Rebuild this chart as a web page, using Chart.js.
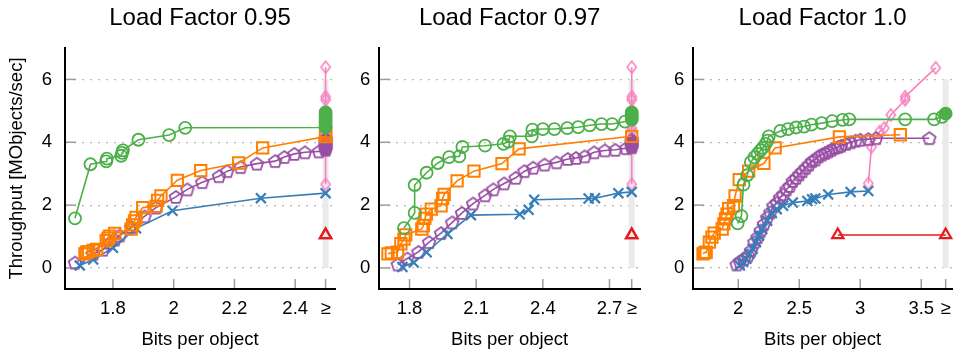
<!DOCTYPE html>
<html><head><meta charset="utf-8">
<script src="https://cdn.jsdelivr.net/npm/chart.js@4.4.1/dist/chart.umd.min.js"></script>
<style>
html,body{margin:0;padding:0;background:#fff;}
#wrap{position:relative;width:962px;height:352px;overflow:hidden;background:#fff;}
canvas{position:absolute;top:0;}
</style></head><body>
<div id="wrap">
<canvas id="c1" width="345" height="352" style="left:0px"></canvas>
<canvas id="c2" width="305" height="352" style="left:345px"></canvas>
<canvas id="c3" width="312" height="352" style="left:650px"></canvas>
</div>
<script>
// ---------- titles / ticks ----------
const panelTitles = ['Load Factor 0.95', 'Load Factor 0.97', 'Load Factor 1.0'];
const yTicks = [0, 2, 4, 6];
const yTickLabels = ['0', '2', '4', '6'];
const xTicks1 = [1.8, 2.0, 2.2, 2.4, 2.5];
const xTickLabels1 = ['1.8', '2', '2.2', '2.4', '≥'];
const xTicks2 = [1.8, 2.1, 2.4, 2.7, 2.8];
const xTickLabels2 = ['1.8', '2.1', '2.4', '2.7', '≥'];
const xTicks3 = [2.0, 2.5, 3.0, 3.5, 3.7];
const xTickLabels3 = ['2', '2.5', '3', '3.5', '≥'];
// the "≥" column: points with more bits are clamped there
const GE1 = 2.5, GE2 = 2.8, GE3 = 3.7;

// ---------- Load Factor 0.95 : [bits per object, throughput] ----------
const blue1 = [[1.691,0.08],[1.735,0.27],[1.80,0.64],[1.876,1.26],[1.996,1.82],[2.287,2.22]];
const blue1Over = [2.38];
const orange1 = [[1.708,0.45],[1.713,0.50],[1.72,0.52],[1.735,0.56],[1.746,0.59],[1.778,0.87],[1.784,0.95],[1.789,1.01],[1.806,1.10],[1.86,1.24],[1.865,1.37],[1.871,1.50],[1.876,1.61],[1.898,1.92],[1.942,1.96],[1.947,2.15],[1.958,2.29],[2.012,2.79],[2.089,3.10],[2.214,3.34],[2.293,3.82]];
const orange1Over = [4.18, 4.26, 4.33];
const green1 = [[1.675,1.58],[1.726,3.30],[1.778,3.39],[1.780,3.48],[1.827,3.57],[1.830,3.66],[1.833,3.74],[1.884,4.08],[1.985,4.23],[2.038,4.46]];
const green1Over = [4.47, 4.55, 4.63, 4.71, 4.79, 4.87, 4.95];
const purple1 = [[1.675,0.17],[1.735,0.45],[1.767,0.58],[1.789,0.80],[1.806,0.90],[1.822,1.03],[1.86,1.30],[1.904,1.64],[1.942,1.92],[2.007,2.26],[2.045,2.50],[2.094,2.73],[2.149,2.92],[2.176,3.08],[2.22,3.21],[2.274,3.32],[2.334,3.40],[2.364,3.53],[2.397,3.63],[2.432,3.68],[2.478,3.71]];
const purple1Over = [3.76, 3.82, 3.88, 3.94, 4.0, 4.06, 4.12];
const pink1 = [];
const pink1Over = [2.66, 3.85, 4.34, 4.45, 4.87, 5.35, 5.45, 6.39];
const red1 = [];
const red1Over = [1.05, 1.05];

// ---------- Load Factor 0.97 ----------
const blue2 = [[1.768,0.03],[1.819,0.17],[1.877,0.50],[1.971,1.08],[2.076,1.68],[2.296,1.71],[2.336,1.85],[2.361,2.17],[2.606,2.21],[2.635,2.22],[2.74,2.38]];
const blue2Over = [2.42];
const orange2 = [[1.703,0.45],[1.718,0.48],[1.746,0.50],[1.761,0.77],[1.775,0.92],[1.783,1.05],[1.855,1.24],[1.862,1.34],[1.869,1.58],[1.876,1.71],[1.898,1.87],[1.942,1.98],[1.949,2.21],[1.956,2.34],[2.014,2.77],[2.09,3.08],[2.216,3.32],[2.293,3.79]];
const orange2Over = [4.19];
const green2 = [[1.775,1.27],[1.823,1.75],[1.823,2.64],[1.877,3.03],[1.927,3.34],[1.978,3.53],[2.024,3.55],[2.038,3.85],[2.14,3.89],[2.223,3.95],[2.245,4.02],[2.252,4.19],[2.35,4.19],[2.353,4.40],[2.40,4.42],[2.452,4.42],[2.51,4.45],[2.559,4.48],[2.611,4.54],[2.664,4.58],[2.712,4.58],[2.77,4.66]];
const green2Over = [4.72, 4.78, 4.84, 4.90, 4.95];
const purple2 = [[1.747,0.11],[1.79,0.30],[1.84,0.51],[1.888,0.82],[1.942,1.11],[1.992,1.45],[2.036,1.75],[2.086,2.05],[2.14,2.31],[2.177,2.50],[2.226,2.69],[2.278,2.87],[2.317,3.08],[2.356,3.19],[2.408,3.29],[2.462,3.36],[2.512,3.47],[2.549,3.50],[2.588,3.55],[2.631,3.68],[2.679,3.74],[2.726,3.76],[2.775,3.81]];
const purple2Over = [3.84, 3.90, 3.96, 4.02, 4.08];
const pink2 = [];
const pink2Over = [2.66, 3.85, 4.34, 4.45, 4.87, 5.35, 5.45, 6.39];
const red2 = [];
const red2Over = [1.05, 1.05];

// ---------- Load Factor 1.0 ----------
const blue3 = [[2.013,0.08],[2.039,0.19],[2.066,0.29],[2.092,0.45],[2.118,0.61],[2.145,0.82],[2.171,1.03],[2.197,1.24],[2.237,1.50],[2.276,1.75],[2.316,1.87],[2.368,1.98],[2.447,2.08],[2.566,2.13],[2.605,2.19],[2.632,2.21],[2.737,2.34],[2.921,2.42],[3.066,2.45]];
const blue3Over = [];
const orange3 = [[1.711,0.45],[1.724,0.49],[1.737,0.50],[1.763,0.82],[1.784,0.98],[1.803,1.11],[1.868,1.24],[1.882,1.40],[1.895,1.56],[1.908,1.71],[1.921,1.89],[1.961,1.98],[1.974,2.29],[2.008,2.81],[2.085,3.08],[2.21,3.33],[2.302,3.82],[2.829,4.17],[3.329,4.24]];
const orange3Over = [];
const green3 = [[1.995,1.42],[2.026,1.65],[2.043,2.65],[2.073,2.95],[2.103,3.37],[2.132,3.52],[2.158,3.63],[2.182,3.74],[2.2,3.82],[2.224,3.95],[2.24,4.05],[2.25,4.19],[2.345,4.36],[2.408,4.42],[2.474,4.47],[2.539,4.50],[2.60,4.56],[2.684,4.61],[2.77,4.67],[2.855,4.71],[2.91,4.73],[3.368,4.73],[3.605,4.73],[3.671,4.81]];
const green3Over = [4.91];
const purple3 = [[1.987,0.11],[2.013,0.21],[2.047,0.29],[2.079,0.40],[2.105,0.56],[2.132,0.82],[2.158,0.98],[2.184,1.19],[2.21,1.40],[2.237,1.61],[2.263,1.77],[2.289,1.98],[2.316,2.08],[2.342,2.24],[2.368,2.34],[2.395,2.50],[2.421,2.61],[2.447,2.77],[2.474,2.87],[2.50,2.98],[2.526,3.08],[2.553,3.19],[2.579,3.29],[2.605,3.40],[2.632,3.45],[2.658,3.55],[2.684,3.61],[2.711,3.66],[2.737,3.71],[2.763,3.76],[2.789,3.82],[2.816,3.85],[2.842,3.89],[2.882,3.95],[2.921,4.00],[2.961,4.05],[3.0,4.08],[3.066,4.10],[3.13,4.13],[3.566,4.13]];
const purple3Over = [];
const pink3 = [[3.066,2.69],[3.092,3.85],[3.158,4.34],[3.197,4.45],[3.25,4.87],[3.368,5.35],[3.368,5.45],[3.618,6.37]];
const pink3Over = [];
const red3 = [[2.816,1.05]];
const red3Over = [1.05];

// ---------- colours ----------
const C_BLUE = '#377eb8', C_ORANGE = '#ff7f00', C_GREEN = '#4daf4a',
      C_PURPLE = '#984ea3', C_PINK = '#f781bf', C_RED = '#e41a1c';
const FONT = '"Liberation Sans", Arial, Helvetica, sans-serif';

// ---------- marker images ----------
function pentagon(color, filled) {
  const c = document.createElement('canvas'); c.width = 18; c.height = 18;
  const g = c.getContext('2d'); g.beginPath();
  for (let i = 0; i < 5; i++) {
    const a = -Math.PI / 2 + i * 2 * Math.PI / 5;
    const x = 9 + 6.6 * Math.cos(a), y = 9.6 + 6.6 * Math.sin(a);
    if (i) g.lineTo(x, y); else g.moveTo(x, y);
  }
  g.closePath();
  if (filled) { g.fillStyle = color; g.fill(); }
  g.strokeStyle = color; g.lineWidth = 1.8; g.stroke();
  return c;
}
function diamond(color) {
  const c = document.createElement('canvas'); c.width = 14; c.height = 16;
  const g = c.getContext('2d'); g.beginPath();
  g.moveTo(7, 2.0); g.lineTo(11.6, 8); g.lineTo(7, 14.0); g.lineTo(2.4, 8); g.closePath();
  g.strokeStyle = color; g.lineWidth = 1.6; g.stroke();
  return c;
}
const pentH = pentagon(C_PURPLE, false), pentF = pentagon(C_PURPLE, true), diaH = diamond(C_PINK);

function pts(pairs, over, ge) {
  return pairs.map(p => ({x: p[0], y: p[1]})).concat(over.map(v => ({x: ge, y: v})));
}

function datasets(s, ge) {
  const isGe = ctx => ctx.raw && ctx.raw.x >= ge - 1e-9;
  const base = {showLine: true, tension: 0, borderWidth: 1.6, pointBorderWidth: 1.8, fill: false, clip: false};
  return [
    Object.assign({}, base, {data: pts(s.green, s.greenOver, ge), borderColor: C_GREEN, pointStyle: 'circle', pointRadius: 6,
      pointBorderColor: C_GREEN, pointBackgroundColor: ctx => isGe(ctx) ? C_GREEN : 'rgba(0,0,0,0)'}),
    Object.assign({}, base, {data: pts(s.orange, s.orangeOver, ge), borderColor: C_ORANGE, pointStyle: 'rect', pointRadius: 8,
      pointBorderColor: C_ORANGE, pointBackgroundColor: 'rgba(0,0,0,0)', pointBorderWidth: 2}),
    Object.assign({}, base, {data: pts(s.blue, s.blueOver, ge), borderColor: C_BLUE, pointStyle: 'crossRot', pointRadius: 7,
      pointBorderColor: C_BLUE, pointBorderWidth: 2.2}),
    Object.assign({}, base, {data: pts(s.purple, s.purpleOver, ge), borderColor: C_PURPLE,
      pointStyle: ctx => isGe(ctx) ? pentF : pentH, pointRadius: 7}),
    Object.assign({}, base, {data: pts(s.pink, s.pinkOver, ge), borderColor: C_PINK, pointStyle: diaH, pointRadius: 6}),
    Object.assign({}, base, {data: pts(s.red, s.redOver, ge), borderColor: C_RED, pointStyle: 'triangle', pointRadius: 6.5,
      pointBorderColor: C_RED, pointBackgroundColor: 'rgba(0,0,0,0)', pointBorderWidth: 2.2})
  ];
}

const decor = {
  id: 'decor',
  beforeDatasetsDraw(chart, args, opts) {
    const {ctx, chartArea: a, scales: {x, y}} = chart;
    ctx.save();
    const px = x.getPixelForValue(opts.ge);
    const top = y.getPixelForValue(6), bot = y.getPixelForValue(0);
    ctx.fillStyle = '#ebebeb';
    ctx.fillRect(px - 3, top, 6, bot - top);
    ctx.strokeStyle = '#9c9c9c'; ctx.lineWidth = 1.5;
    x.ticks.forEach(t => { const p = x.getPixelForValue(t.value);
      ctx.beginPath(); ctx.moveTo(p, a.bottom - 1); ctx.lineTo(p, a.bottom - 10); ctx.stroke(); });
    y.ticks.forEach(t => { const p = y.getPixelForValue(t.value);
      ctx.beginPath(); ctx.moveTo(a.left + 1, p); ctx.lineTo(a.left + 11, p); ctx.stroke(); });
    ctx.restore();
  }
};

function makeChart(id, cfg) {
  const tickFont = {family: FONT, size: 18.5};
  new Chart(document.getElementById(id), {
    type: 'line',
    data: {datasets: datasets(cfg.series, cfg.ge)},
    options: {
      responsive: false, animation: false, devicePixelRatio: 1,
      layout: {padding: {left: 0, right: cfg.padRight, top: 0, bottom: 0}},
      plugins: {
        legend: {display: false}, tooltip: {enabled: false},
        title: {display: true, text: cfg.title, fullSize: false, color: '#000',
          font: {family: FONT, size: 24, weight: 'normal', lineHeight: 1.2}, padding: {top: 4, bottom: 15.2}},
        decor: {ge: cfg.ge}
      },
      scales: {
        x: {
          type: 'linear', min: cfg.xmin, max: cfg.xmax,
          afterBuildTicks: s => { s.ticks = cfg.xticks.map(v => ({value: v})); },
          afterFit: s => { s.height = 63; },
          ticks: {callback: (v, i) => cfg.xlabels[i], font: tickFont, color: '#000', padding: 9, maxRotation: 0, autoSkip: false},
          grid: {display: false, drawTicks: false},
          border: {display: true, color: '#000', width: 2},
          title: {display: true, text: 'Bits per object', color: '#000', font: {family: FONT, size: 18.5, lineHeight: 1.2}, padding: {top: 0, bottom: 1}}
        },
        y: {
          min: -0.67, max: 7,
          afterBuildTicks: s => { s.ticks = yTicks.map(v => ({value: v})); },
          afterFit: s => { s.width = cfg.yw; },
          ticks: {callback: (v, i) => yTickLabels[i], font: tickFont, color: '#000', padding: cfg.ypad},
          grid: {color: '#b8b8b8', lineWidth: 1.2, drawTicks: false},
          border: {display: true, color: '#000', width: 2, dash: [2, 6]},
          title: {display: cfg.ytitle, text: 'Throughput [MObjects/sec]', color: '#000',
            font: {family: FONT, size: 18.5, lineHeight: 1.2}, padding: {top: 6, bottom: 0}}
        }
      }
    },
    plugins: [decor]
  });
}

makeChart('c1', {title: panelTitles[0], ge: GE1, xmin: 1.6422, xmax: 2.531, xticks: xTicks1, xlabels: xTickLabels1,
  yw: 65, ypad: 13, ytitle: true, padRight: 8,
  series: {blue: blue1, blueOver: blue1Over, orange: orange1, orangeOver: orange1Over, green: green1, greenOver: green1Over,
    purple: purple1, purpleOver: purple1Over, pink: pink1, pinkOver: pink1Over, red: red1, redOver: red1Over}});
makeChart('c2', {title: panelTitles[1], ge: GE2, xmin: 1.6639, xmax: 2.8373, xticks: xTicks2, xlabels: xTickLabels2,
  yw: 34.3, ypad: 9, ytitle: false, padRight: 0,
  series: {blue: blue2, blueOver: blue2Over, orange: orange2, orangeOver: orange2Over, green: green2, greenOver: green2Over,
    purple: purple2, purpleOver: purple2Over, pink: pink2, pinkOver: pink2Over, red: red2, redOver: red2Over}});
makeChart('c3', {title: panelTitles[2], ge: GE3, xmin: 1.6314, xmax: 3.752, xticks: xTicks3, xlabels: xTickLabels3,
  yw: 43.3, ypad: 9, ytitle: false, padRight: 0,
  series: {blue: blue3, blueOver: blue3Over, orange: orange3, orangeOver: orange3Over, green: green3, greenOver: green3Over,
    purple: purple3, purpleOver: purple3Over, pink: pink3, pinkOver: pink3Over, red: red3, redOver: red3Over}});
</script>
</body></html>
